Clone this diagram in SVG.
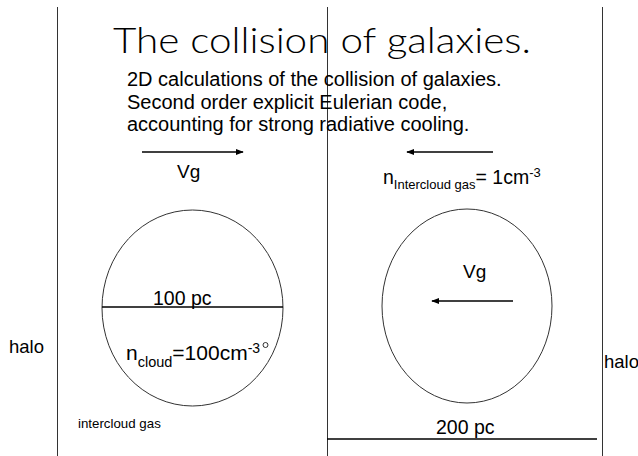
<svg xmlns="http://www.w3.org/2000/svg" width="638" height="456" viewBox="0 0 638 456">
  <defs>
    <marker id="ah" viewBox="0 0 10 10" refX="9" refY="5" markerWidth="8" markerHeight="8" markerUnits="userSpaceOnUse" orient="auto">
      <path d="M0,1 L10,5 L0,9 Z" fill="#000"/>
    </marker>
  </defs>
  <style>
    .ln { stroke: #333; stroke-width: 1; fill: none; }
    .bl { stroke: #000; stroke-width: 1.3; fill: none; }
    .arr { stroke: #000; stroke-width: 1.3; fill: none; marker-end: url(#ah); }
    .t { font-family: "Liberation Sans", Arial, sans-serif; fill: #000; }
    .title { font-family: "Lato", "Liberation Sans", sans-serif; font-weight: 300; fill: #000; }
  </style>
  <rect width="638" height="456" fill="#fff"/>

  <g id="frame">
    <line class="ln" x1="57.5" y1="7" x2="57.5" y2="456"/>
    <line class="ln" x1="327.5" y1="7" x2="327.5" y2="456"/>
    <line class="ln" x1="602.5" y1="7" x2="602.5" y2="456"/>
  </g>

  <g id="title">
    <text class="title" x="113" y="53" font-size="36" textLength="418" lengthAdjust="spacingAndGlyphs">The collision of galaxies.</text>
  </g>

  <g id="subtitle">
    <text class="t" x="127" y="86" font-size="20">2D calculations of the collision of galaxies.</text>
    <text class="t" x="127" y="108.5" font-size="20">Second order explicit Eulerian code,</text>
    <text class="t" x="127" y="131" font-size="20">accounting for strong radiative cooling.</text>
  </g>

  <g id="left-cloud">
    <ellipse class="ln" cx="192.5" cy="308" rx="90.5" ry="98"/>
    <line class="bl" x1="102" y1="307" x2="283" y2="307"/>
    <text class="t" x="153" y="305" font-size="19.5">100 pc</text>
    <text class="t" x="126" y="360" font-size="21">n<tspan font-size="14.5" dy="7">cloud</tspan><tspan dy="-7">=100cm</tspan><tspan font-size="14" dy="-7">-3</tspan></text>
    <circle cx="265.5" cy="345" r="2.5" fill="none" stroke="#000" stroke-width="0.8"/>
  </g>

  <g id="right-cloud">
    <ellipse class="ln" cx="467" cy="306" rx="85" ry="97"/>
    <text class="t" x="463" y="278" font-size="19">Vg</text>
  </g>

  <g id="labels">
    <text class="t" x="177" y="178" font-size="19">Vg</text>
    <text class="t" x="383" y="184" font-size="19.5">n<tspan font-size="13" dy="5">Intercloud gas</tspan><tspan dy="-5">= 1cm</tspan><tspan font-size="13" dy="-7">-3</tspan></text>
    <text class="t" x="9" y="353" font-size="18.5">halo</text>
    <text class="t" x="604" y="368" font-size="18.5">halo</text>
    <text class="t" x="78" y="428" font-size="13.3">intercloud gas</text>
    <text class="t" x="436" y="434" font-size="19.5">200 pc</text>
  </g>

  <g id="connectors">
    <line class="arr" x1="142" y1="152" x2="243" y2="152"/>
    <line class="arr" x1="493" y1="152" x2="407" y2="152"/>
    <line class="arr" x1="513" y1="301" x2="432" y2="301"/>
    <line class="bl" x1="327" y1="439" x2="597" y2="439"/>
  </g>
</svg>
